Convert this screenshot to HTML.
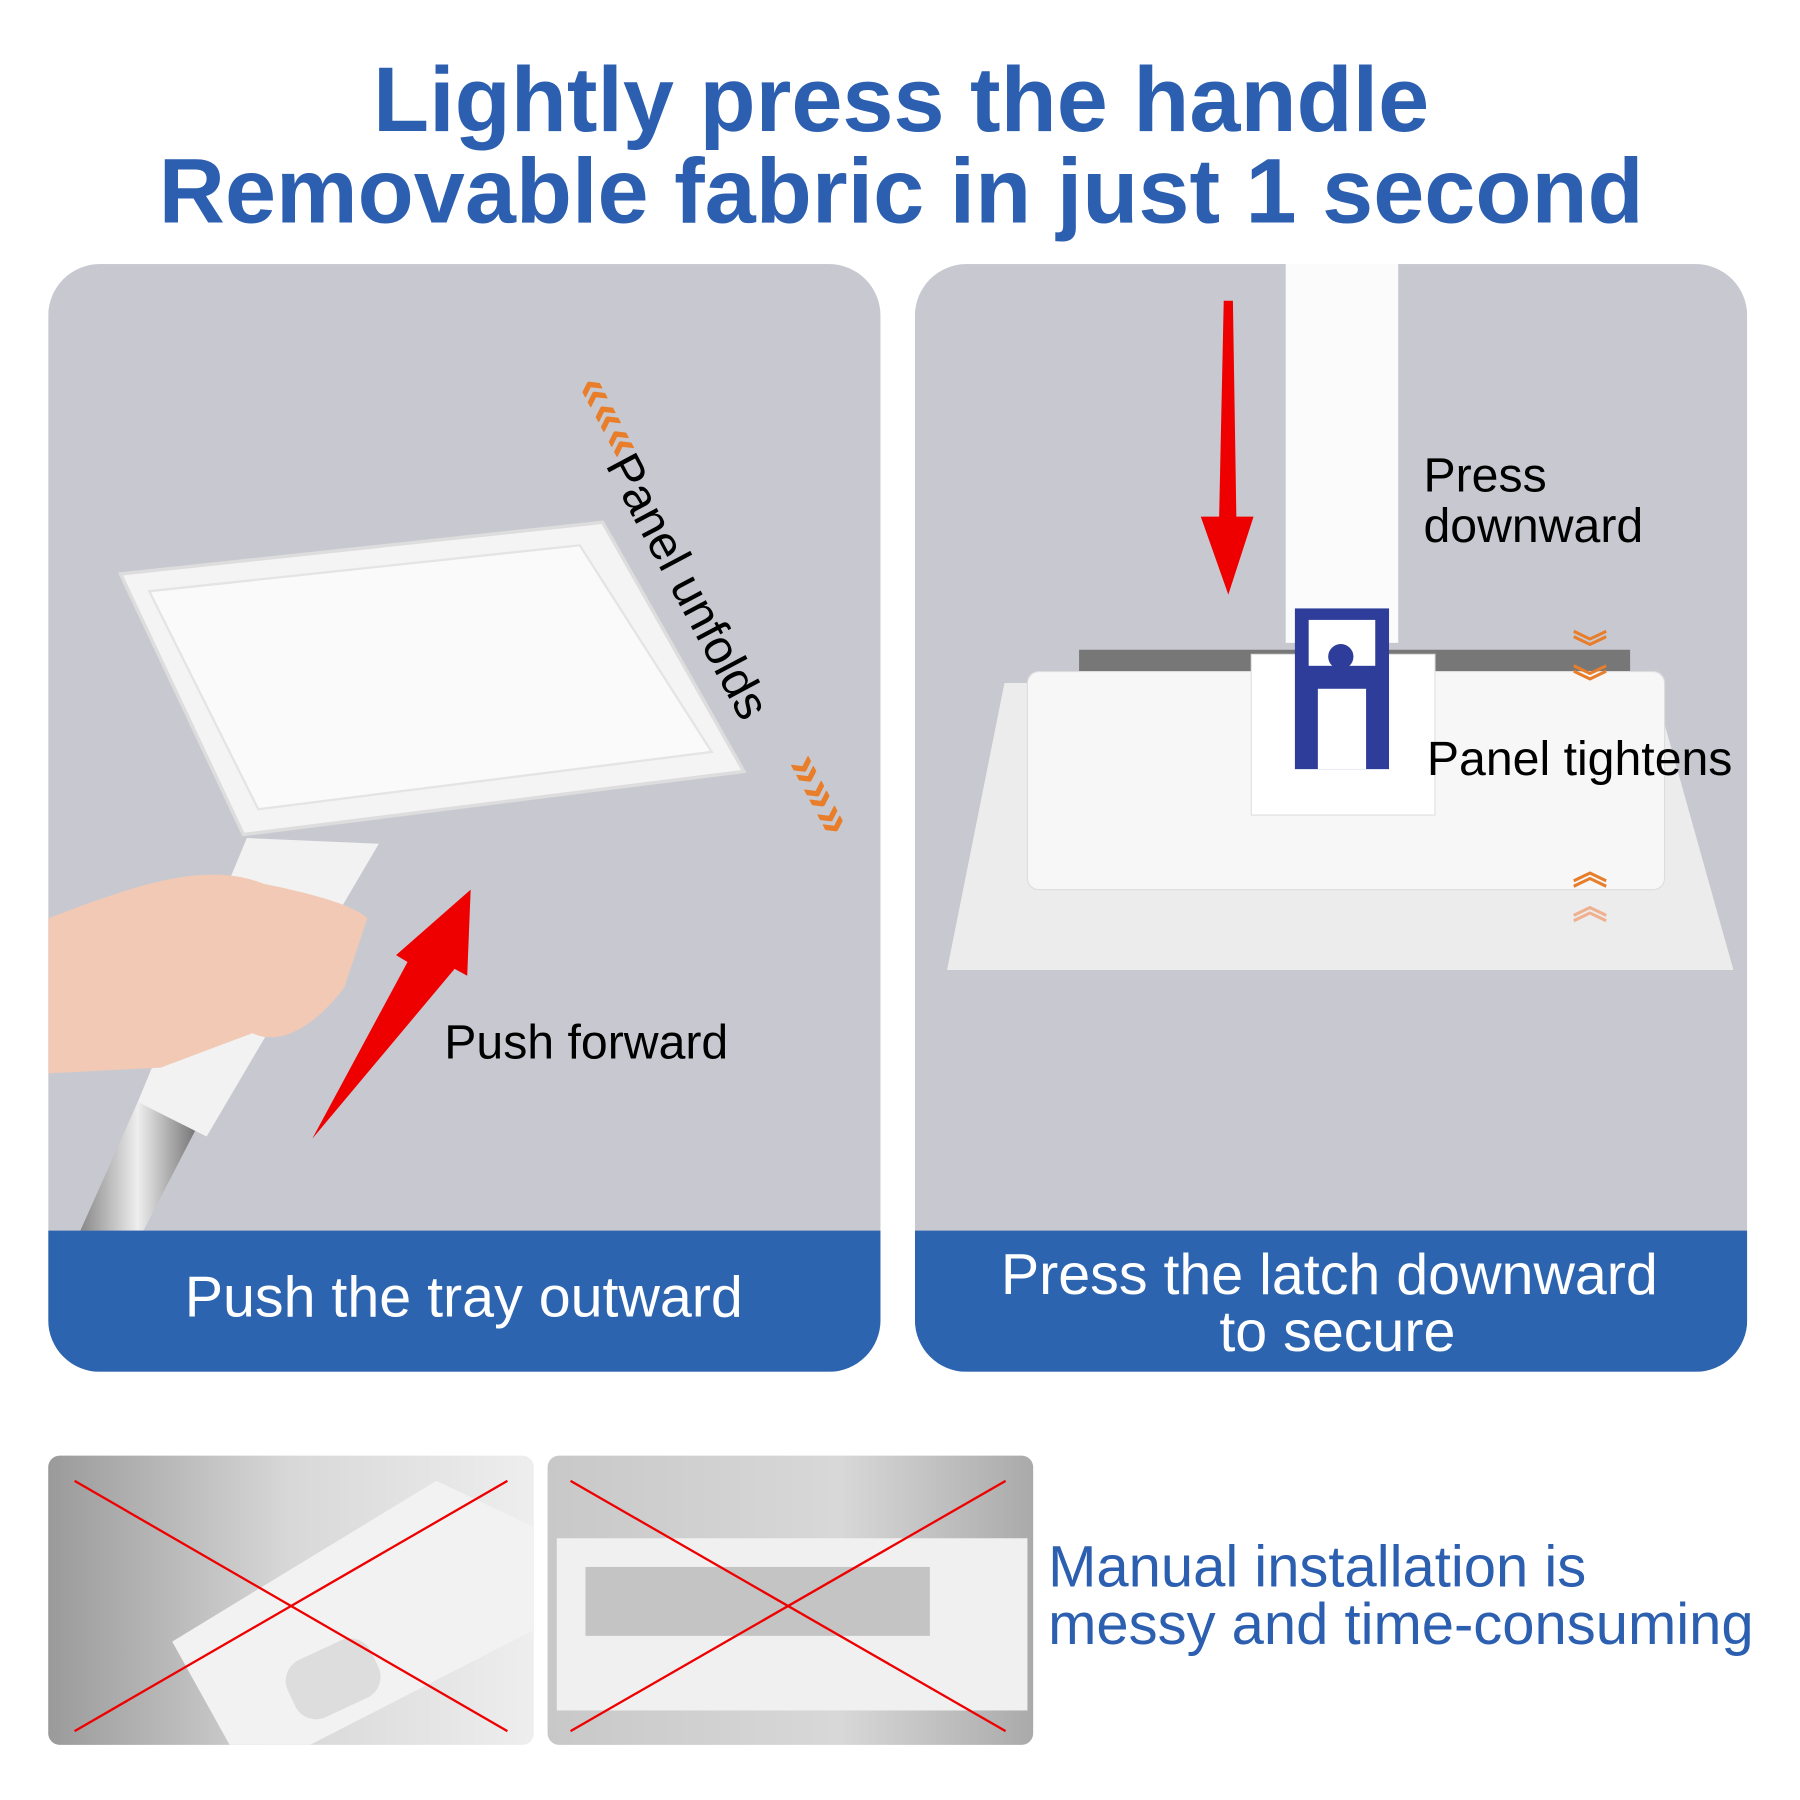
<!DOCTYPE html>
<html><head><meta charset="utf-8"><style>
html,body{margin:0;padding:0;background:#fff;}
svg{display:block;}
</style></head><body>
<svg width="1800" height="1800" viewBox="0 0 1568 1568" xmlns="http://www.w3.org/2000/svg" font-family="Liberation Sans, sans-serif">
<defs>
<clipPath id="lc"><rect x="42" y="230" width="725" height="965" rx="45"/></clipPath>
<clipPath id="rc"><rect x="797" y="230" width="725" height="965" rx="45"/></clipPath>
<linearGradient id="pole" x1="0" x2="1"><stop offset="0" stop-color="#888"/><stop offset=".5" stop-color="#eee"/><stop offset="1" stop-color="#777"/></linearGradient>
<linearGradient id="g1" x1="0" x2="1"><stop offset="0" stop-color="#9a9a9a"/><stop offset=".5" stop-color="#d8d8d8"/><stop offset="1" stop-color="#eee"/></linearGradient>
<linearGradient id="g2" x1="0" x2="1"><stop offset="0" stop-color="#c8c8c8"/><stop offset=".6" stop-color="#d8d8d8"/><stop offset="1" stop-color="#aaa"/></linearGradient>
</defs>
<text x="785" y="114" text-anchor="middle" font-size="80" font-weight="bold" fill="#2c5fb0">Lightly press the handle</text>
<text x="785" y="194" text-anchor="middle" font-size="80" font-weight="bold" fill="#2c5fb0">Removable fabric in just 1 second</text>

<g clip-path="url(#lc)">
<rect x="42" y="230" width="725" height="965" fill="#c8c9d0"/>
<polygon points="70,1072 120,960 170,985 125,1072" fill="url(#pole)"/>
<polygon points="120,960 215,730 330,735 180,990" fill="#f2f2f2"/>
<polygon points="105,500 525,455 648,672 212,727" fill="#f4f4f4" stroke="#ddd" stroke-width="3"/>
<polygon points="130,515 505,475 620,655 225,705" fill="#fafafa" stroke="#e4e4e4" stroke-width="2"/>
<path d="M42,800 C120,770 180,750 230,770 C280,780 310,790 320,800 L300,860 C270,900 240,910 220,900 L140,930 L42,935 Z" fill="#f1c9b5"/>
<rect x="42" y="1072" width="725" height="123" fill="#2d64b0"/>
</g>
<polygon points="272,992 355,838 345,832 410,775 407,850 396,844" fill="#ee0000"/>
<text x="387" y="922" font-size="42" fill="#000">Push forward</text>
<text transform="translate(527,405) rotate(62)" font-size="42" fill="#000">Panel unfolds</text>
<text x="478" y="355" font-size="44" fill="#e87d2a" font-weight="bold" transform="rotate(62 505 365)">«««</text>
<text x="665" y="690" font-size="44" fill="#e87d2a" font-weight="bold" transform="rotate(62 695 695)">»»»</text>
<text x="404" y="1147" text-anchor="middle" font-size="50" fill="#fff">Push the tray outward</text>

<g clip-path="url(#rc)">
<rect x="797" y="230" width="725" height="965" fill="#c8c9d0"/>
<polygon points="875,595 1440,595 1510,845 825,845" fill="#ececec"/>
<rect x="940" y="566" width="480" height="20" fill="#777"/>
<rect x="895" y="585" width="555" height="190" rx="10" fill="#f7f7f7" stroke="#ddd"/>
<rect x="1090" y="570" width="160" height="140" fill="#fff" stroke="#e0e0e0"/>
<rect x="1120" y="230" width="98" height="330" fill="#fbfbfb"/>
<rect x="1128" y="530" width="82" height="140" fill="#2e3d9a"/>
<rect x="1140" y="540" width="58" height="40" fill="#fff"/>
<circle cx="1168" cy="572" r="11" fill="#2e3d9a"/>
<rect x="1148" y="600" width="42" height="70" fill="#fff"/>
<rect x="797" y="1072" width="725" height="123" fill="#2d64b0"/>
</g>
<polygon points="1066,262 1074,262 1077,450 1092,450 1070,518 1046,450 1062,450" fill="#ee0000"/>
<text x="1240" y="428" font-size="42" fill="#000">Press</text>
<text x="1240" y="472" font-size="42" fill="#000">downward</text>
<text x="1243" y="675" font-size="42" fill="#000">Panel tightens</text>
<text x="1370" y="575" font-size="30" fill="#e87d2a" font-weight="bold">︾</text>
<text x="1370" y="605" font-size="30" fill="#e87d2a" font-weight="bold">︾</text>
<text x="1370" y="770" font-size="30" fill="#e87d2a" font-weight="bold">︽</text>
<text x="1370" y="800" font-size="30" fill="#f0b090" font-weight="bold">︽</text>
<text x="1158" y="1127" text-anchor="middle" font-size="50" fill="#fff">Press the latch downward</text>
<text x="1165" y="1177" text-anchor="middle" font-size="50" fill="#fff">to secure</text>

<rect x="42" y="1268" width="423" height="252" rx="10" fill="url(#g1)"/>
<polygon points="150,1430 380,1290 465,1330 465,1420 270,1520 200,1520" fill="#f2f2f2"/>
<rect x="250" y="1435" width="80" height="55" rx="20" fill="#ddd" transform="rotate(-25 290 1462)"/>
<line x1="65" y1="1290" x2="442" y2="1508" stroke="#e00" stroke-width="2"/>
<line x1="442" y1="1290" x2="65" y2="1508" stroke="#e00" stroke-width="2"/>
<rect x="477" y="1268" width="423" height="252" rx="10" fill="url(#g2)"/>
<rect x="485" y="1340" width="410" height="150" fill="#f0f0f0"/>
<rect x="510" y="1365" width="300" height="60" fill="#c4c4c4"/>
<line x1="497" y1="1290" x2="876" y2="1508" stroke="#e00" stroke-width="2"/>
<line x1="876" y1="1290" x2="497" y2="1508" stroke="#e00" stroke-width="2"/>
<text x="913" y="1382" font-size="50.5" fill="#2c5fb0">Manual installation is</text>
<text x="913" y="1432" font-size="50.5" fill="#2c5fb0">messy and time-consuming</text>
</svg>
</body></html>
